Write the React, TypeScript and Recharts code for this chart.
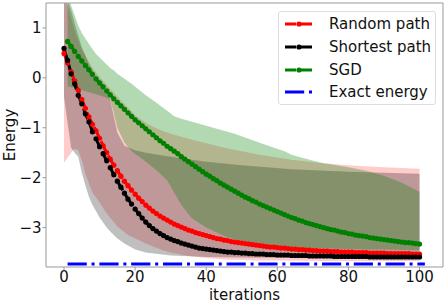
import React from "react";
import {
  ComposedChart,
  Line,
  Area,
  XAxis,
  YAxis,
  Legend,
  ReferenceLine,
} from "recharts";

// iterations 0..100
const iterations = Array.from({ length: 101 }, (_, i) => i);

const randomPath = [
  0.49, 0.30, 0.12, -0.06, -0.25, -0.43, -0.61, -0.78, -0.93, -1.06,
  -1.21, -1.36, -1.50, -1.63, -1.75, -1.86, -1.97, -2.07, -2.16, -2.25,
  -2.33, -2.41, -2.48, -2.55, -2.61, -2.67, -2.72, -2.77, -2.81, -2.85,
  -2.89, -2.93, -2.96, -2.99, -3.02, -3.05, -3.07, -3.10, -3.12, -3.14,
  -3.16, -3.18, -3.20, -3.22, -3.23, -3.25, -3.26, -3.28, -3.29, -3.30,
  -3.31, -3.32, -3.33, -3.34, -3.35, -3.36, -3.37, -3.38, -3.39, -3.39,
  -3.40, -3.41, -3.41, -3.42, -3.43, -3.43, -3.44, -3.44, -3.45, -3.45,
  -3.46, -3.46, -3.47, -3.47, -3.47, -3.48, -3.48, -3.48, -3.49, -3.49,
  -3.49, -3.49, -3.50, -3.50, -3.50, -3.50, -3.51, -3.51, -3.51, -3.51,
  -3.51, -3.52, -3.52, -3.52, -3.52, -3.52, -3.52, -3.52, -3.53, -3.53, -3.53,
];

const shortestPath = [
  0.59, 0.35, 0.08, -0.12, -0.35, -0.52, -0.72, -0.88, -1.08, -1.22,
  -1.38, -1.52, -1.66, -1.80, -1.94, -2.07, -2.19, -2.31, -2.43, -2.53,
  -2.63, -2.72, -2.81, -2.89, -2.96, -3.02, -3.07, -3.12, -3.16, -3.20,
  -3.23, -3.26, -3.28, -3.31, -3.33, -3.35, -3.37, -3.39, -3.41, -3.42,
  -3.43, -3.44, -3.45, -3.46, -3.47, -3.48, -3.49, -3.49, -3.50, -3.50,
  -3.51, -3.51, -3.52, -3.52, -3.53, -3.53, -3.53, -3.54, -3.54, -3.54,
  -3.55, -3.55, -3.55, -3.55, -3.56, -3.56, -3.56, -3.56, -3.56, -3.57,
  -3.57, -3.57, -3.57, -3.57, -3.57, -3.57, -3.58, -3.58, -3.58, -3.58,
  -3.58, -3.58, -3.58, -3.58, -3.58, -3.58, -3.59, -3.59, -3.59, -3.59,
  -3.59, -3.59, -3.59, -3.59, -3.59, -3.59, -3.59, -3.59, -3.59, -3.59, -3.59,
];

// SGD starts at iteration 1
const sgd = [
  0.73, 0.63, 0.53, 0.43, 0.34, 0.25, 0.16, 0.07, -0.02, -0.10,
  -0.18, -0.26, -0.34, -0.42, -0.49, -0.56, -0.63, -0.70, -0.77, -0.84,
  -0.90, -0.96, -1.02, -1.08, -1.14, -1.20, -1.26, -1.31, -1.37, -1.42,
  -1.47, -1.52, -1.58, -1.63, -1.68, -1.73, -1.78, -1.83, -1.88, -1.93,
  -1.97, -2.02, -2.06, -2.11, -2.15, -2.19, -2.23, -2.27, -2.31, -2.35,
  -2.39, -2.42, -2.46, -2.49, -2.53, -2.56, -2.59, -2.62, -2.65, -2.68,
  -2.71, -2.74, -2.77, -2.80, -2.82, -2.85, -2.87, -2.90, -2.92, -2.94,
  -2.96, -2.98, -3.00, -3.02, -3.04, -3.05, -3.07, -3.09, -3.10, -3.12,
  -3.13, -3.15, -3.16, -3.17, -3.18, -3.20, -3.21, -3.22, -3.23, -3.24,
  -3.25, -3.26, -3.27, -3.28, -3.29, -3.30, -3.30, -3.31, -3.32, -3.33,
];

// spread bands (min / max over runs)
const randomBandX = [0, 1, 2, 3, 4, 5, 6, 8, 10, 12, 15, 18, 20, 23, 25, 28, 30, 35, 40, 45, 55, 64, 73, 80, 90, 100];
const randomUpper = [1.6, 1.45, 1.2, 0.95, 0.75, 0.58, 0.45, 0.2, 0.02, -0.14, -0.38, -0.6, -0.75, -0.9, -0.98, -1.07, -1.12, -1.22, -1.31, -1.4, -1.54, -1.64, -1.71, -1.75, -1.79, -1.82];
const randomLower = [-1.7, -1.6, -1.5, -1.42, -1.45, -1.65, -1.92, -2.3, -2.5, -2.72, -2.98, -3.15, -3.22, -3.32, -3.38, -3.46, -3.5, -3.57, -3.61, -3.64, -3.66, -3.66, -3.67, -3.67, -3.67, -3.67];

const shortestBandX = [0, 1, 2, 3, 4, 5, 6, 7, 8, 10, 12, 13, 15, 17, 20, 23, 30, 40, 50, 64, 80, 100];
const shortestUpper = [1.6, 1.55, 1.36, 1.1, 0.85, 0.62, 0.45, 0.28, 0.15, -0.1, -0.3, -0.45, -1.1, -1.36, -1.45, -1.5, -1.58, -1.68, -1.75, -1.83, -1.88, -1.92];
const shortestLower = [-0.38, -0.9, -1.4, -1.5, -1.58, -1.9, -2.15, -2.38, -2.55, -2.8, -3.0, -3.08, -3.22, -3.32, -3.44, -3.5, -3.56, -3.59, -3.6, -3.61, -3.62, -3.62];

const sgdBandX = [1, 2, 3, 4, 5, 7, 9, 12, 13, 14, 15, 17, 19, 23, 26, 29, 31, 33, 36, 40, 46, 48, 55, 62, 64, 68, 73, 80, 85, 90, 95, 100];
const sgdUpper = [1.7, 1.45, 1.25, 1.05, 0.9, 0.68, 0.48, 0.27, 0.2, 0.15, 0.08, -0.02, -0.12, -0.35, -0.5, -0.66, -0.77, -0.82, -0.88, -0.96, -1.08, -1.12, -1.3, -1.47, -1.54, -1.62, -1.71, -1.79, -1.86, -1.96, -2.1, -2.28];
const sgdLower = [-0.17, -0.19, -0.21, -0.23, -0.25, -0.29, -0.33, -0.4, -0.44, -0.7, -1.0, -1.3, -1.47, -1.68, -1.85, -2.05, -2.3, -2.55, -2.82, -3.0, -3.2, -3.24, -3.33, -3.38, -3.4, -3.41, -3.42, -3.43, -3.44, -3.44, -3.45, -3.45];

const exactX = [1, 101.5];
const exactEnergy = -3.73;

const xTicks = [0, 20, 40, 60, 80, 100];
const yTicks = [-3, -2, -1, 0, 1];

const FONT = "DejaVu Sans";
const DASH = "11.1 4.8";
const DASHDOT = "19.2 4.8 3 4.8";
const SPINE = "#999";

const legendItems = [
  { name: "Random path", color: "#ff0000", dash: DASH, dot: true },
  { name: "Shortest path", color: "#000000", dash: DASH, dot: true },
  { name: "SGD", color: "#008000", dash: DASH, dot: true },
  { name: "Exact energy", color: "#0000ff", dash: DASHDOT, dot: false },
];

const toLine = (xs: number[], ys: number[]) => xs.map((x, k) => ({ i: x, v: ys[k] }));
const toBand = (xs: number[], lo: number[], hi: number[]) =>
  xs.map((x, k) => ({ i: x, r: [lo[k], hi[k]] }));

const fmt = (v: number) => (v < 0 ? "\u2212" + Math.abs(v) : String(v));

function LegendBox() {
  return (
    <div
      style={{
        width: 158,
        height: 94,
        boxSizing: "border-box",
        border: "1px solid #dddddd",
        borderRadius: 3,
        background: "rgba(255,255,255,0.8)",
        paddingTop: 1,
        fontFamily: FONT,
        fontSize: 15,
        color: "#111",
      }}
    >
      {legendItems.map((it) => (
        <div key={it.name} style={{ height: 22.7, display: "flex", alignItems: "center" }}>
          <svg width={28} height={10} style={{ marginLeft: 6, marginRight: 16, flex: "none" }}>
            <line x1={0} y1={5} x2={28} y2={5} stroke={it.color} strokeWidth={3} strokeDasharray={it.dash} />
            {it.dot && <circle cx={14} cy={5} r={2.6} fill={it.color} />}
          </svg>
          <span style={{ whiteSpace: "nowrap" }}>{it.name}</span>
        </div>
      ))}
    </div>
  );
}

export default function App() {
  const randomData = toLine(iterations, randomPath);
  const shortestData = toLine(iterations, shortestPath);
  const sgdData = toLine(iterations.slice(1), sgd);
  const exactData = exactX.map((x) => ({ i: x, v: exactEnergy }));

  const tickStyle = { fontSize: 15, fill: "#111", fontFamily: FONT };
  const xDomain: [number, number] = [-5.07, 106.6];
  const yDomain: [number, number] = [-3.79, 1.5];

  return (
    <div style={{ position: "absolute", left: 0, top: 0, background: "#fff" }}>
      <ComposedChart width={448} height={306} margin={{ top: 3, right: 5, bottom: 0, left: 0 }}>
        <XAxis
          dataKey="i"
          type="number"
          domain={xDomain}
          ticks={xTicks}
          allowDataOverflow
          height={39}
          tickSize={3.5}
          tickMargin={0.5}
          tick={tickStyle}
          stroke={SPINE}
          label={{
            value: "iterations",
            position: "insideBottom",
            offset: 6,
            style: { fontSize: 15, fill: "#111", fontFamily: FONT },
          }}
        />
        <YAxis
          type="number"
          domain={yDomain}
          ticks={yTicks}
          allowDataOverflow
          width={46}
          tickSize={3.5}
          tickMargin={1}
          tick={tickStyle}
          tickFormatter={fmt}
          stroke={SPINE}
          label={{
            content: ({ viewBox }: any) => {
              const cy = viewBox.y + viewBox.height / 2;
              return (
                <text
                  x={15}
                  y={cy}
                  transform={`rotate(-90 15 ${cy})`}
                  textAnchor="middle"
                  style={{ fontSize: 15, fill: "#111", fontFamily: FONT }}
                >
                  Energy
                </text>
              );
            },
          }}
        />

        <Area
          data={toBand(randomBandX, randomLower, randomUpper)}
          dataKey="r"
          type="linear"
          stroke="none"
          fill="#ff0000"
          fillOpacity={0.2}
          isAnimationActive={false}
          legendType="none"
        />
        <Area
          data={toBand(shortestBandX, shortestLower, shortestUpper)}
          dataKey="r"
          type="linear"
          stroke="none"
          fill="#000000"
          fillOpacity={0.25}
          isAnimationActive={false}
          legendType="none"
        />
        <Area
          data={toBand(sgdBandX, sgdLower, sgdUpper)}
          dataKey="r"
          type="linear"
          stroke="none"
          fill="#008000"
          fillOpacity={0.3}
          isAnimationActive={false}
          legendType="none"
        />

        <Line
          data={randomData}
          dataKey="v"
          type="linear"
          stroke="#ff0000"
          strokeWidth={3}
          strokeDasharray={DASH}
          dot={{ r: 2.6, fill: "#ff0000", stroke: "none" }}
          isAnimationActive={false}
        />
        <Line
          data={shortestData}
          dataKey="v"
          type="linear"
          stroke="#000000"
          strokeWidth={3}
          strokeDasharray={DASH}
          dot={{ r: 2.6, fill: "#000000", stroke: "none" }}
          isAnimationActive={false}
        />
        <Line
          data={sgdData}
          dataKey="v"
          type="linear"
          stroke="#008000"
          strokeWidth={3}
          strokeDasharray={DASH}
          dot={{ r: 2.6, fill: "#008000", stroke: "none" }}
          isAnimationActive={false}
        />
        <Line
          data={exactData}
          dataKey="v"
          type="linear"
          stroke="#0000ff"
          strokeWidth={3}
          strokeDasharray={DASHDOT}
          dot={false}
          isAnimationActive={false}
        />

        {/* top and right spines */}
        <ReferenceLine y={yDomain[1]} stroke={SPINE} strokeWidth={1} />
        <ReferenceLine x={xDomain[1]} stroke={SPINE} strokeWidth={1} />

        <Legend
          layout="vertical"
          align="center"
          verticalAlign="middle"
          content={() => <LegendBox />}
          wrapperStyle={{ left: 278, top: 11, width: 158, height: 94 }}
        />
      </ComposedChart>
    </div>
  );
}
